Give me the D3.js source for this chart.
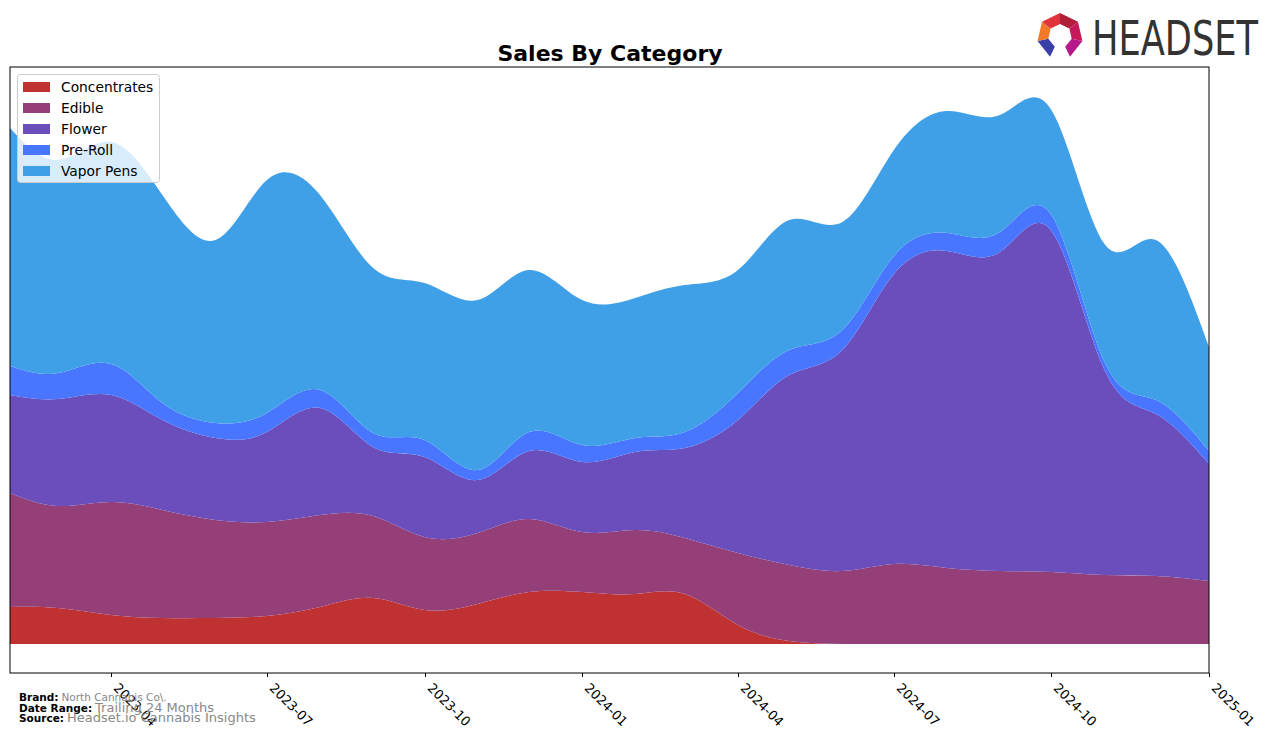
<!DOCTYPE html>
<html>
<head>
<meta charset="utf-8">
<script src="https://cdn.jsdelivr.net/npm/d3@7"></script>
<style>
  html, body { margin: 0; padding: 0; background: #fff; }
  svg { display: block; }
</style>
</head>
<body>
<svg id="chart" width="1276" height="743"></svg>
<script>
// ---- Data (monthly, arbitrary sales units) ----
const months = ["2023-02","2023-03","2023-04","2023-05","2023-06","2023-07","2023-08","2023-09",
  "2023-10","2023-11","2023-12","2024-01","2024-02","2024-03","2024-04","2024-05","2024-06",
  "2024-07","2024-08","2024-09","2024-10","2024-11","2024-12","2025-01"];
const categories = ["Concentrates","Edible","Flower","Pre-Roll","Vapor Pens"];
const concentrates = [37,36,29,26,26,28,37,46,34,40,52,52,50,50,19,3,0,0,0,0,0,0,0,0];
const edible       = [114,102,113,108,98,94,92,82,73,71,73,60,64,56,72,76,73,80,76,73,72,69,68,63];
const flower       = [98,107,107,90,82,90,107,69,80,53,68,70,78,90,133,190,221,290,317,319,341,205,162,117];
const preRoll      = [29,26,31,17,15,19,18,14,17,10,19,17,14,16,27,25,20,18,18,20,16,8,14,13];
const vaporPens    = [238,213,222,208,183,233,195,165,157,170,162,145,140,147,123,130,108,106,122,117,105,118,160,104];
const tickLabels   = ["2023-04","2023-07","2023-10","2024-01","2024-04","2024-07","2024-10","2025-01"];
const colors = ["#C03232","#953F79","#6A4EBB","#4876FF","#3FA0E8"];

const seriesValues = [concentrates, edible, flower, preRoll, vaporPens];
const parse = d3.timeParse("%Y-%m");
const table = months.map((m, i) => {
  const row = { date: parse(m) };
  categories.forEach((c, k) => row[c] = seriesValues[k][i]);
  return row;
});

const svg = d3.select("#chart");
const L = 10, R = 1209, T = 67, B = 673;

const x = d3.scaleTime().domain([parse(months[0]), parse(months[months.length - 1])]).range([L, R]);
const y = d3.scaleLinear().domain([-29, 577]).range([B, T]);

const stack = d3.stack().keys(categories);
const layers = stack(table);

svg.append("defs").append("clipPath").attr("id", "clip")
  .append("rect").attr("x", L).attr("y", T).attr("width", R - L).attr("height", B - T);

const area = d3.area()
  .x(d => x(d.data.date))
  .y0(d => y(d[0]))
  .y1(d => y(d[1]))
  .curve(d3.curveNatural);

svg.append("g").attr("clip-path", "url(#clip)")
  .selectAll("path").data(layers).join("path")
  .attr("d", area)
  .attr("fill", (d, i) => colors[i]);

// frame
svg.append("rect").attr("x", L).attr("y", T).attr("width", R - L).attr("height", B - T)
  .attr("fill", "none").attr("stroke", "#000").attr("stroke-width", 1);

// x axis ticks
const tickDates = tickLabels.map(parse);
const xt = svg.append("g");
tickDates.forEach((d, i) => {
  const px = Math.round(x(d)) + 0.5;
  xt.append("line").attr("x1", px).attr("x2", px).attr("y1", B).attr("y2", B + 4)
    .attr("stroke", "#000").attr("stroke-width", 1);
  xt.append("text")
    .attr("transform", `translate(${px + 8},${B + 9}) rotate(45)`)
    .attr("font-family", "DejaVu Sans, sans-serif").attr("font-size", 13)
    .attr("fill", "#000").attr("dominant-baseline", "hanging")
    .text(tickLabels[i]);
});

// title
svg.append("text").attr("x", 610).attr("y", 61).attr("text-anchor", "middle")
  .attr("font-family", "DejaVu Sans, sans-serif").attr("font-weight", "bold").attr("font-size", 22)
  .text("Sales By Category");

// legend
const lg = svg.append("g");
lg.append("rect").attr("x", 17.5).attr("y", 74.5).attr("width", 142).attr("height", 108)
  .attr("rx", 3).attr("fill", "#fff").attr("fill-opacity", 0.8).attr("stroke", "#ccc");
categories.forEach((c, i) => {
  const cy = 87 + i * 21;
  lg.append("rect").attr("x", 23).attr("y", cy - 5).attr("width", 27).attr("height", 10).attr("fill", colors[i]);
  lg.append("text").attr("x", 61).attr("y", cy).attr("dominant-baseline", "central")
    .attr("font-family", "DejaVu Sans, sans-serif").attr("font-size", 13.8).attr("fill", "#000").text(c);
});

// footer
const foot = [
  ["Brand:", "North Cannabis Co\\.", 701, 10.5],
  ["Date Range:", "Trailing 24 Months", 712, 13],
  ["Source:", "Headset.io Cannabis Insights", 722, 13]
];
foot.forEach(([k, v, yy, fs]) => {
  const t = svg.append("text").attr("x", 19).attr("y", yy)
    .attr("font-family", "DejaVu Sans, sans-serif").attr("font-size", 10.5);
  t.append("tspan").attr("font-weight", "bold").attr("fill", "#000").text(k);
  t.append("tspan").attr("fill", "#888").attr("font-size", fs).attr("dx", 3).text(v);
});

// Headset logo
const logo = svg.append("g");
const cx = 1060, cy = 36, ro = 23, ri = 12;
const segColors = ["#3A3FA8", "#F07A2A", "#E0343C", "#B01E3A", "#C8195A", "#B5198A", "#5A57D6"];
const n = 7;
for (let k = 0; k < n; k++) {
  if (k === 6) continue; // opening at bottom
  const a0 = Math.PI / 2 + (k + 0.5) * 2 * Math.PI / n;
  const a1 = a0 + 2 * Math.PI / n;
  const pts = [
    [cx + ro * Math.cos(a0), cy + ro * Math.sin(a0)],
    [cx + ro * Math.cos(a1), cy + ro * Math.sin(a1)],
    [cx + ri * Math.cos(a1), cy + ri * Math.sin(a1)],
    [cx + ri * Math.cos(a0), cy + ri * Math.sin(a0)]
  ];
  logo.append("polygon").attr("points", pts.map(p => p.join(",")).join(" "))
    .attr("fill", segColors[k]);
}
logo.append("text").attr("x", 1092).attr("y", 55)
  .attr("font-family", "Liberation Sans Narrow, DejaVu Sans Condensed, sans-serif")
  .attr("font-size", 48).attr("fill", "#333")
  .attr("textLength", 166).attr("lengthAdjust", "spacingAndGlyphs")
  .text("HEADSET");
</script>
</body>
</html>
